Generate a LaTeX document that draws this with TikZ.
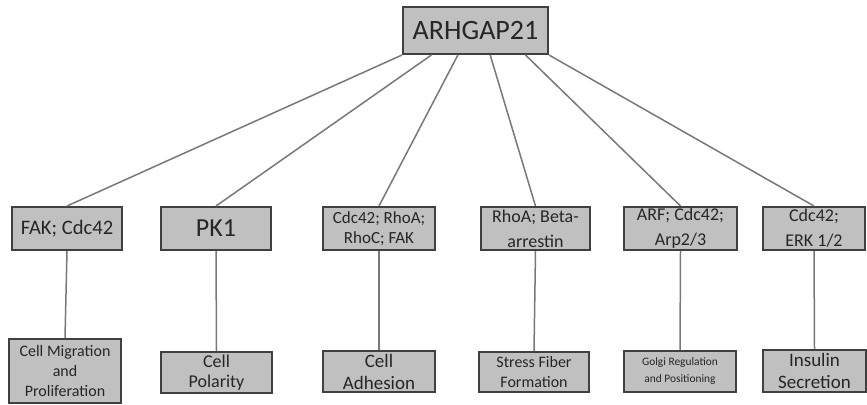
\documentclass[tikz,border=0pt]{standalone}
\usepackage{fontspec}
\setmainfont{Carlito}
\usetikzlibrary{calc}
\definecolor{boxfill}{RGB}{192,192,192}
\definecolor{boxline}{RGB}{64,64,64}
\definecolor{linkgray}{RGB}{120,120,120}

\begin{document}
\begin{tikzpicture}[x=0.5pt, y=-0.5pt,
        box/.style={draw=boxline, fill=boxfill, line width=1pt, align=center, inner sep=0pt, text=black!85},
        link/.style={draw=linkgray, line width=0.75pt}]
                \useasboundingbox (0,0) rectangle (867,404);
                % top
                \node[box, minimum width=72.5pt, minimum height=23.5pt, font=\fontsize{14}{17}\selectfont] (arh) at (475.5,30.5) {ARHGAP21};
                % partners
                \node[box, minimum width=55pt, minimum height=21.5pt, font=\fontsize{10.3}{12}\selectfont] (fak) at (67,228.5) {FAK; Cdc42};
                \node[box, minimum width=55pt, minimum height=21.5pt, font=\fontsize{13}{15}\selectfont] (pk) at (216,228.5) {PK1};
                \node[box, minimum width=56pt, minimum height=21.5pt, font=\fontsize{8.5}{10}\selectfont] (rhoc) at (379,228.5) {Cdc42; RhoA;\\RhoC; FAK};
                \node[box, minimum width=54.5pt, minimum height=21.5pt, font=\fontsize{9}{12.5}\selectfont] (beta) at (535.5,228.5) {RhoA; Beta-\\arrestin};
                \node[box, minimum width=56.5pt, minimum height=21.5pt, font=\fontsize{9}{12.5}\selectfont] (arf) at (680.5,228.5) {ARF; Cdc42;\\Arp2/3};
                \node[box, minimum width=51pt, minimum height=21.5pt, font=\fontsize{9}{12.5}\selectfont] (erk) at (814,228.5) {Cdc42;\\ERK 1/2};
                % functions
                \node[box, minimum width=56pt, minimum height=32pt, font=\fontsize{8}{10}\selectfont] (migr) at (65,371) {Cell Migration\\and\\Proliferation};
                \node[box, minimum width=55.5pt, minimum height=20.5pt, font=\fontsize{9}{10}\selectfont] (polar) at (216.5,372.5) {Cell\\Polarity};
                \node[box, minimum width=56pt, minimum height=20.5pt, font=\fontsize{9.5}{11}\selectfont] (adhes) at (379,371.5) {Cell\\Adhesion};
                \node[box, minimum width=55pt, minimum height=20pt, font=\fontsize{8}{10}\selectfont] (fiber) at (534,372) {Stress Fiber\\Formation};
                \node[box, minimum width=56pt, minimum height=20.5pt, font=\fontsize{5.7}{8.5}\selectfont] (golgi) at (680,371.5) {Golgi Regulation\\and Positioning};
                \node[box, minimum width=51.5pt, minimum height=21pt, font=\fontsize{9.5}{11}\selectfont] (insul) at (814.5,371) {Insulin\\Secretion};
                % links
                \draw[link] (arh.south west) -- (fak.north);
                \draw[link] ($(arh.south west)!0.2!(arh.south east)$) -- (pk.north);
                \draw[link] ($(arh.south west)!0.38!(arh.south east)$) -- (rhoc.north);
                \draw[link] ($(arh.south west)!0.6!(arh.south east)$) -- (beta.north);
                \draw[link] ($(arh.south west)!0.84!(arh.south east)$) -- (arf.north);
                \draw[link] (arh.south east) -- (erk.north);
                \draw[link] (fak.south) -- (migr.north);
                \draw[link] (pk.south) -- (polar.north);
                \draw[link] (rhoc.south) -- (adhes.north);
                \draw[link] (beta.south) -- (fiber.north);
                \draw[link] (arf.south) -- (golgi.north);
                \draw[link] (erk.south) -- (insul.north);
\end{tikzpicture}
\end{document}
